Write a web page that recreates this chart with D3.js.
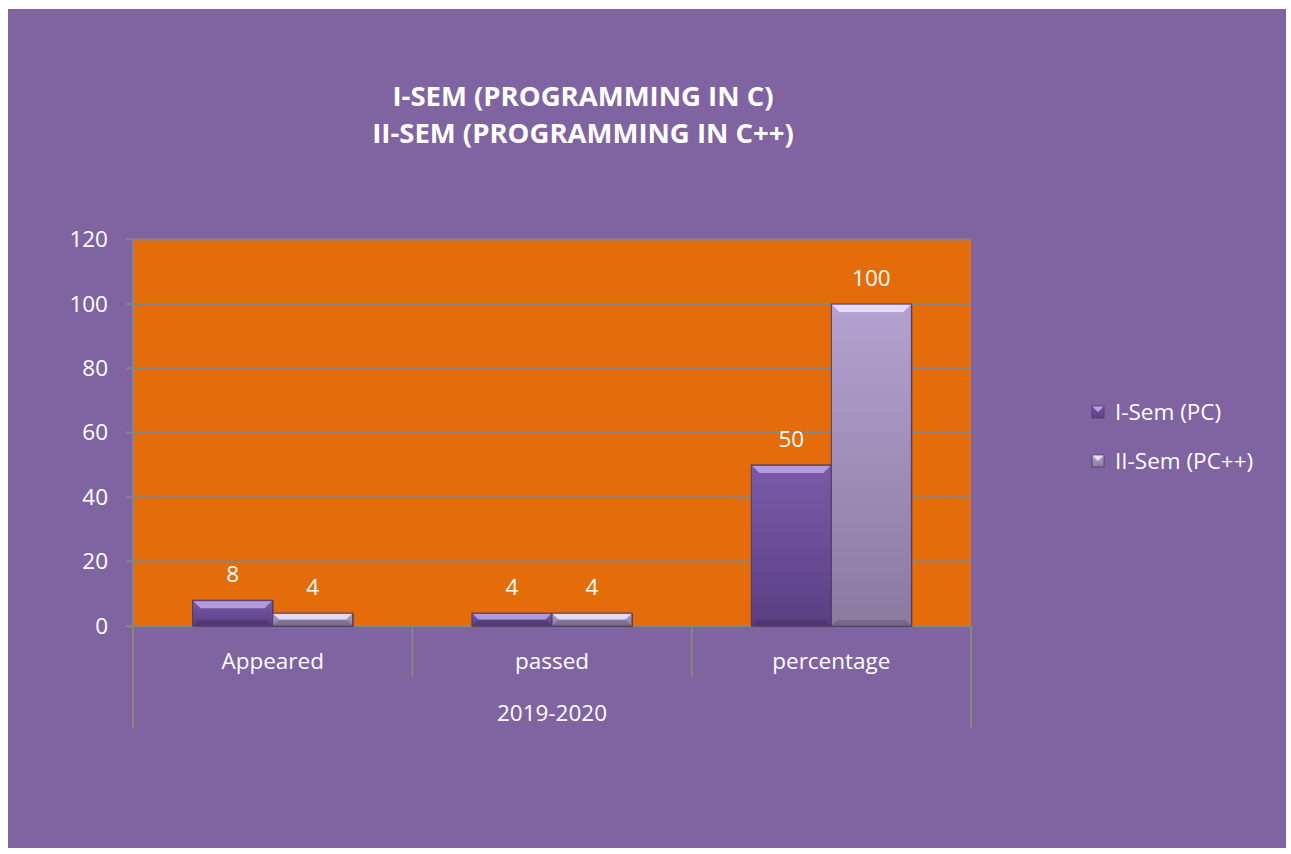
<!DOCTYPE html>
<html>
<head>
<meta charset="utf-8">
<title>I-SEM / II-SEM</title>
<script src="https://d3js.org/d3.v7.min.js"></script>
<style>
  body { margin: 0; background: #ffffff; }
  svg { display: block; font-family: "Open Sans", "Noto Sans", sans-serif; }
</style>
</head>
<body>
<div id="chart"></div>
<script>
// data
var categories = ["Appeared", "passed", "percentage"];
var seriesNames = ["I-Sem (PC)", "II-Sem (PC++)"];
var semOne = [8, 4, 50];
var semTwo = [4, 4, 100];
var yTicks = [0, 20, 40, 60, 80, 100, 120];
var groupLabel = "2019-2020";
var titleLines = ["I-SEM (PROGRAMMING IN C)", "II-SEM (PROGRAMMING IN C++)"];

const W = 1291, H = 854;
const plot = {left: 133, right: 971, top: 239.5, bottom: 626};
const fs = 22.5;

const svg = d3.select("#chart").append("svg")
  .attr("width", W).attr("height", H);

const defs = svg.append("defs");
function grad(id, c1, c2) {
  const g = defs.append("linearGradient").attr("id", id)
    .attr("x1", 0).attr("y1", 0).attr("x2", 0).attr("y2", 1);
  g.append("stop").attr("offset", "0%").attr("stop-color", c1);
  g.append("stop").attr("offset", "100%").attr("stop-color", c2);
}
grad("g0", "#7a5aa8", "#5a3f84");
grad("g1", "#b3a2cf", "#8a7a9e");

// background
svg.append("rect").attr("x", 8).attr("y", 9).attr("width", 1278).attr("height", 839)
  .attr("fill", "#8064a2");

// title
svg.append("g").selectAll("text").data(titleLines).enter().append("text")
  .attr("x", 583).attr("y", (d, i) => 106 + i * 37)
  .attr("text-anchor", "middle")
  .attr("font-size", 27.5).attr("font-weight", "bold").attr("fill", "#ffffff")
  .text(d => d);

// scales
const y = d3.scaleLinear().domain([0, 120]).range([plot.bottom, plot.top]);
const x0 = d3.scaleBand().domain(categories).range([plot.left, plot.right]);
const x1 = d3.scaleBand().domain(seriesNames).range([0, x0.bandwidth()])
  .paddingInner(0).paddingOuter(0.745);

// plot area
svg.append("rect").attr("x", plot.left).attr("y", plot.top)
  .attr("width", plot.right - plot.left).attr("height", plot.bottom - plot.top)
  .attr("fill", "#e46c0a");

// grid
svg.append("g").selectAll("line").data(yTicks).enter().append("line")
  .attr("x1", plot.left - 7).attr("x2", plot.right)
  .attr("y1", d => y(d)).attr("y2", d => y(d))
  .attr("stroke", "#868686").attr("stroke-width", 2);

// y axis
const yAxis = svg.append("g").attr("transform", "translate(" + plot.left + ",0)")
  .call(d3.axisLeft(y).tickValues(yTicks).tickSize(7).tickPadding(18));
yAxis.select(".domain").remove();
yAxis.selectAll("line").remove();
yAxis.selectAll("text").attr("font-size", fs).attr("fill", "#ffffff")
  .attr("font-family", "'Open Sans', sans-serif");

// category axis lines
const axisCol = "#868686";
svg.append("line").attr("x1", plot.left).attr("x2", plot.left)
  .attr("y1", plot.top).attr("y2", 728).attr("stroke", axisCol).attr("stroke-width", 2);
svg.append("line").attr("x1", plot.right).attr("x2", plot.right)
  .attr("y1", plot.bottom).attr("y2", 728).attr("stroke", axisCol).attr("stroke-width", 2);
svg.append("g").selectAll("line").data(categories.slice(1)).enter().append("line")
  .attr("x1", d => x0(d)).attr("x2", d => x0(d))
  .attr("y1", plot.bottom).attr("y2", 677)
  .attr("stroke", axisCol).attr("stroke-width", 2);

svg.append("g").selectAll("text").data(categories).enter().append("text")
  .attr("x", d => x0(d) + x0.bandwidth() / 2).attr("y", 669)
  .attr("text-anchor", "middle").attr("font-size", fs).attr("fill", "#ffffff")
  .text(d => d);
svg.append("text").attr("x", (plot.left + plot.right) / 2).attr("y", 721)
  .attr("text-anchor", "middle").attr("font-size", fs).attr("fill", "#ffffff")
  .text(groupLabel);

// bars
const rows = categories.map((c, i) => ({cat: c, vals: [semOne[i], semTwo[i]]}));
const bevel = [{top: "#c3acea"}, {top: "#f2eafc"}];

const grp = svg.append("g").selectAll("g").data(rows).enter().append("g")
  .attr("transform", d => "translate(" + x0(d.cat) + ",0)");

const bar = grp.selectAll("g").data(d => d.vals.map((v, k) => ({k: k, v: v}))).enter()
  .append("g");

bar.append("rect")
  .attr("x", d => x1(seriesNames[d.k]) + 1)
  .attr("y", d => y(d.v) + 1)
  .attr("width", x1.bandwidth())
  .attr("height", d => y(0) - y(d.v))
  .attr("fill", "#3a2a50").attr("opacity", 0.6);

bar.append("rect")
  .attr("x", d => x1(seriesNames[d.k]))
  .attr("y", d => y(d.v))
  .attr("width", x1.bandwidth())
  .attr("height", d => y(0) - y(d.v))
  .attr("fill", d => "url(#g" + d.k + ")")
  .attr("stroke", "#4d3a66").attr("stroke-width", 1);

// top bevel
bar.append("path")
  .attr("d", d => {
    const x = x1(seriesNames[d.k]), w = x1.bandwidth(), t = y(d.v);
    const b = Math.min(8, (y(0) - t) / 2);
    return "M" + (x + 1) + "," + (t + 1) + "L" + (x + w - 1) + "," + (t + 1) +
      "L" + (x + w - b) + "," + (t + b) + "L" + (x + b) + "," + (t + b) + "Z";
  })
  .attr("fill", d => bevel[d.k].top).attr("opacity", 0.8);

// bottom shade
bar.append("path")
  .attr("d", d => {
    const x = x1(seriesNames[d.k]), w = x1.bandwidth(), t = y(d.v), bt = y(0);
    const b = Math.min(6, (bt - t) / 2);
    return "M" + (x + 1) + "," + (bt - 1) + "L" + (x + w - 1) + "," + (bt - 1) +
      "L" + (x + w - b) + "," + (bt - b) + "L" + (x + b) + "," + (bt - b) + "Z";
  })
  .attr("fill", "#000000").attr("opacity", 0.15);

// value labels
bar.append("text")
  .attr("x", d => x1(seriesNames[d.k]) + x1.bandwidth() / 2)
  .attr("y", d => y(d.v) - 18)
  .attr("text-anchor", "middle").attr("font-size", fs).attr("fill", "#ffffff")
  .text(d => d.v);

// legend
const leg = svg.append("g").selectAll("g").data(seriesNames).enter().append("g")
  .attr("transform", (d, i) => "translate(1092," + (406 + i * 49) + ")");
leg.append("rect").attr("width", 12).attr("height", 12)
  .attr("fill", (d, i) => "url(#g" + i + ")").attr("stroke", "#4d3a66").attr("stroke-width", 0.8);
leg.append("path").attr("d", "M0.5,0.5L11.5,0.5L6,6Z")
  .attr("fill", (d, i) => bevel[i].top).attr("opacity", 0.9);
leg.append("text").attr("x", 23).attr("y", 14)
  .attr("font-size", fs).attr("fill", "#ffffff").text(d => d);
</script>
</body>
</html>
